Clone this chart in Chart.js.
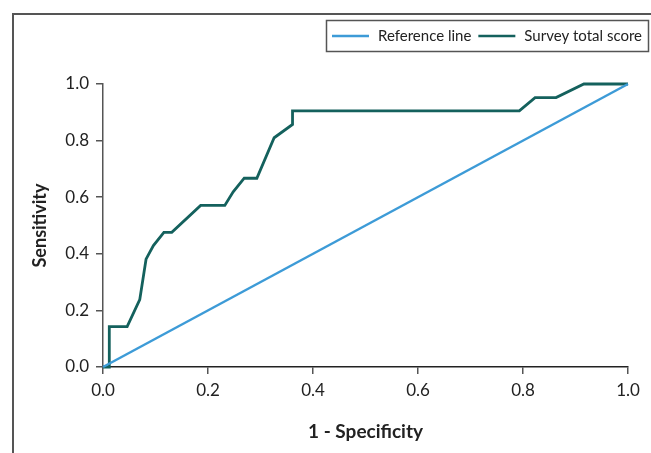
<!DOCTYPE html>
<html>
<head>
<meta charset="utf-8">
<script src="https://cdn.jsdelivr.net/npm/chart.js@4"></script>
<style>
  body { margin: 0; background: #fff; overflow: hidden; }
  #wrap { position: relative; width: 651px; height: 453px; }
  #frame { position: absolute; left: 12px; top: 13px; width: 700px; height: 500px; border: 2px solid #555; box-sizing: border-box; }
  canvas { position: absolute; left: 0; top: 0; }
</style>
</head>
<body>
<div id="wrap">
  <div id="frame"></div>
  <canvas id="myChart" width="651" height="453"></canvas>
</div>
<script>
// ROC curve
const surveyX = [0, 0.012, 0.012, 0.046, 0.070, 0.082, 0.096, 0.116, 0.131, 0.186, 0.232, 0.248, 0.269, 0.293, 0.326, 0.361, 0.361, 0.793, 0.823, 0.863, 0.916, 1.0];
const surveyY = [0, 0, 0.143, 0.143, 0.238, 0.381, 0.429, 0.476, 0.476, 0.571, 0.571, 0.619, 0.667, 0.667, 0.810, 0.857, 0.905, 0.905, 0.952, 0.952, 1.0, 1.0];
const referenceX = [0, 1];
const referenceY = [0, 1];
const tickValues = [0, 0.2, 0.4, 0.6, 0.8, 1.0];

const blue = '#3d9bd7';
const teal = '#14615d';
const axisColor = '#555';
const textColor = '#222';

function toPoints(xs, ys) {
    let pts = [];
    for (let i = 0; i < xs.length; i += 1) {
        pts.push({x: xs[i], y: ys[i]});
    }
    return pts;
}

// legend with a box around it, like the original
const boxLegend = {
    id: 'boxLegend',
    afterDraw(chart) {
        const ctx = chart.ctx;
        ctx.save();
        ctx.strokeStyle = axisColor;
        ctx.lineWidth = 1.5;
        ctx.strokeRect(326.5, 20.5, 322, 31);
        ctx.font = '15px Lato';
        ctx.fillStyle = textColor;
        ctx.textBaseline = 'middle';
        let x = 332;
        const y = 36;
        chart.data.datasets.forEach(function (ds) {
            ctx.strokeStyle = ds.borderColor;
            ctx.lineWidth = 2.5;
            ctx.beginPath();
            ctx.moveTo(x, y);
            ctx.lineTo(x + 37, y);
            ctx.stroke();
            ctx.fillText(ds.label, x + 46, y);
            x += 46 + ctx.measureText(ds.label).width + 7;
        });
        ctx.restore();
    }
};

const ctx = document.getElementById('myChart').getContext('2d');
const myChart = new Chart(ctx, {
    type: 'line',
    data: {
        datasets: [{
            label: 'Reference line',
            data: toPoints(referenceX, referenceY),
            borderColor: blue,
            borderWidth: 2.5,
            pointRadius: 0,
            tension: 0,
            clip: false
        }, {
            label: 'Survey total score',
            data: toPoints(surveyX, surveyY),
            borderColor: teal,
            borderWidth: 2.8,
            pointRadius: 0,
            tension: 0,
            clip: false
        }]
    },
    options: {
        responsive: false,
        animation: false,
        layout: { padding: { left: 0, right: 23, top: 84, bottom: 0 } },
        plugins: {
            legend: { display: false },
            tooltip: { enabled: false }
        },
        scales: {
            x: {
                type: 'linear',
                min: 0,
                max: 1,
                afterBuildTicks: function (axis) { axis.ticks = tickValues.map(v => ({value: v})); },
                afterFit: function (axis) { axis.height = 86; },
                grid: { display: true, drawOnChartArea: false, drawTicks: true, tickLength: 7, color: axisColor, lineWidth: 1.5 },
                border: { display: true, color: '#222', width: 1.5 },
                ticks: {
                    padding: 6,
                    color: textColor,
                    font: { family: 'Lato', size: 17 },
                    callback: v => v.toFixed(1)
                },
                title: {
                    display: true,
                    text: '1 - Specificity',
                    color: textColor,
                    font: { family: 'Lato', size: 19, weight: 'bold' },
                    padding: { top: 4, bottom: 10 }
                }
            },
            y: {
                type: 'linear',
                min: 0,
                max: 1,
                afterBuildTicks: function (axis) { axis.ticks = tickValues.map(v => ({value: v})); },
                afterFit: function (axis) { axis.width = 103; },
                grid: { display: true, drawOnChartArea: false, drawTicks: true, tickLength: 7, color: axisColor, lineWidth: 1.5 },
                border: { display: true, color: axisColor, width: 1.5 },
                ticks: {
                    padding: 7,
                    color: textColor,
                    font: { family: 'Lato', size: 17 },
                    callback: v => v.toFixed(1)
                },
                title: {
                    display: true,
                    text: 'Sensitivity',
                    color: textColor,
                    font: { family: 'Lato', size: 18, weight: 'bold' },
                    padding: { top: 29, bottom: 0 }
                }
            }
        }
    },
    plugins: [boxLegend]
});
</script>
</body>
</html>
